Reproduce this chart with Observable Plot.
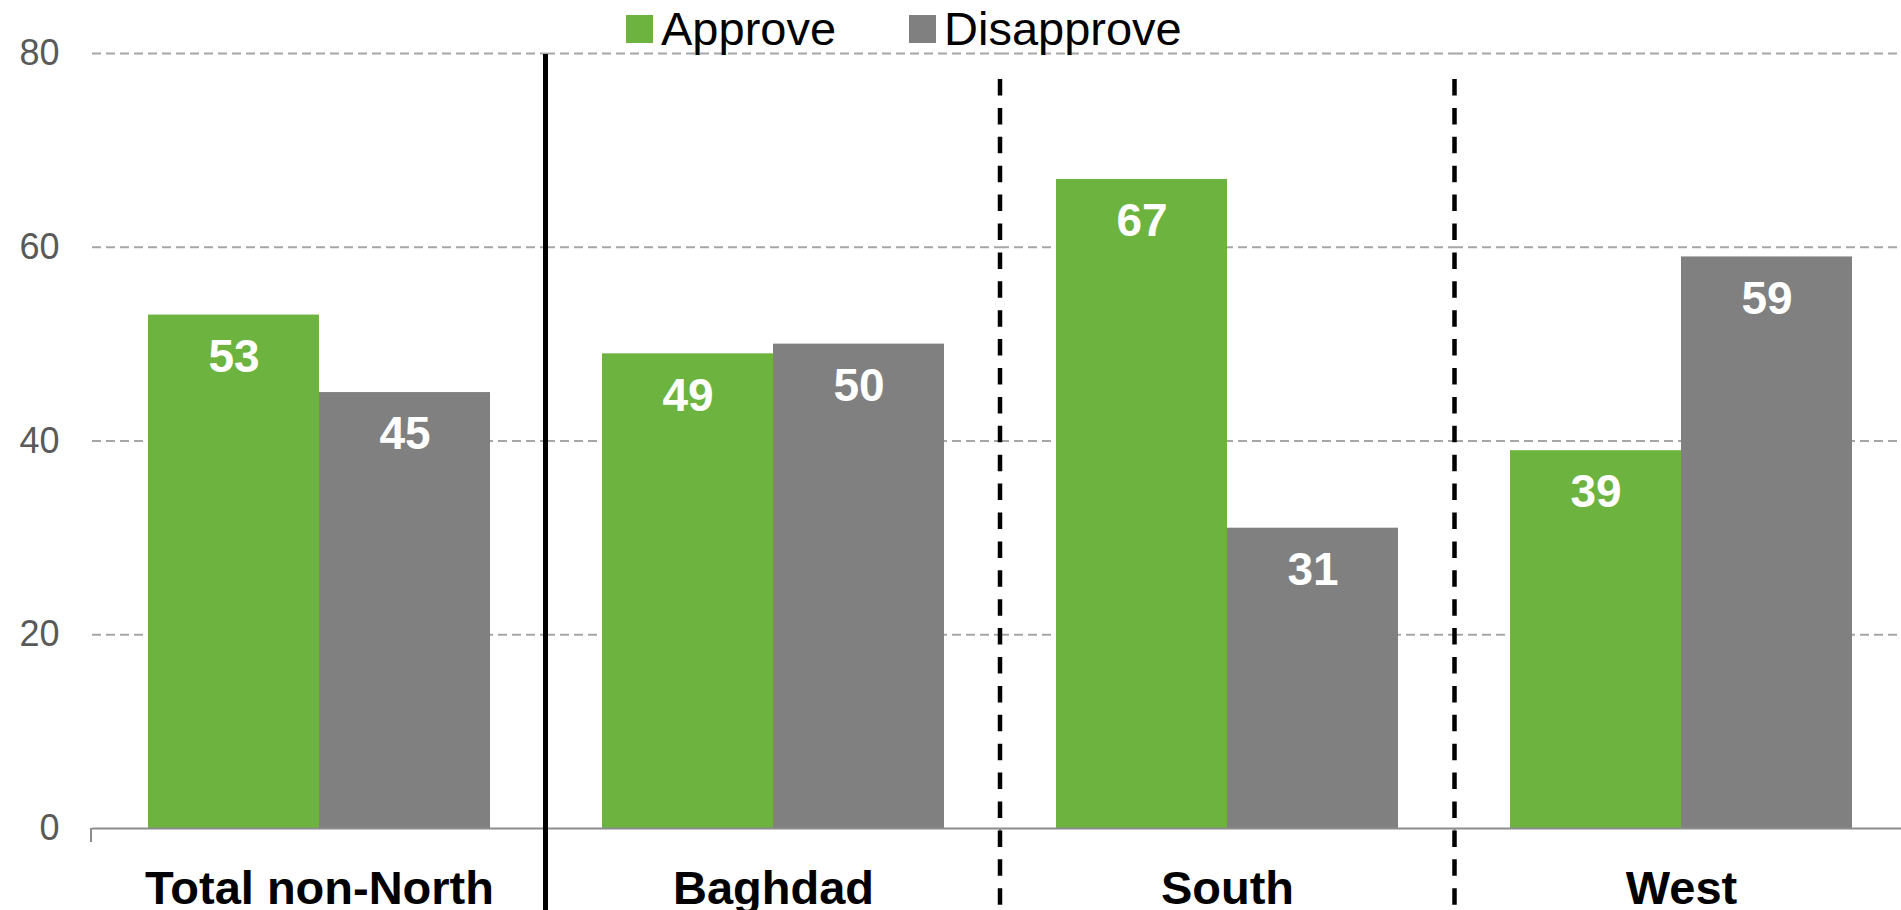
<!DOCTYPE html>
<html>
<head>
<meta charset="utf-8">
<script src="https://cdn.jsdelivr.net/npm/d3@7"></script>
<script src="https://cdn.jsdelivr.net/npm/@observablehq/plot@0.6"></script>
<style>
  html, body { margin: 0; padding: 0; background: #fff; }
  #wrap { position: relative; width: 1901px; height: 910px; overflow: hidden; font-family: "Liberation Sans", Arial, sans-serif; }
  .lg { position: absolute; top: 5px; height: 47px; display: flex; align-items: flex-start; }
  .lg .sw { width: 27px; height: 28px; margin-top: 10px; margin-right: 8px; }
  .lg .tx { font-size: 47px; line-height: 47px; color: #000; white-space: nowrap; }
</style>
</head>
<body>
<div id="wrap"></div>
<script>
const groups = ["Total non-North", "Baghdad", "South", "West"];
const series = ["Approve", "Disapprove"];
const approve = [53, 49, 67, 39];
const disapprove = [45, 50, 31, 59];
const colors = ["#6db33f", "#808080"];
const yTicks = [0, 20, 40, 60, 80];
const gridTicks = [20, 40, 60, 80];
const legendLeft = [626, 909];

const data = groups.flatMap((g, i) => [
  {group: g, series: series[0], value: approve[i]},
  {group: g, series: series[1], value: disapprove[i]}
]);

const chart = Plot.plot({
  width: 1901,
  height: 910,
  marginTop: 53,
  marginBottom: 82,
  marginLeft: 91,
  marginRight: -8,
  style: {fontFamily: "'Liberation Sans', Arial, sans-serif", background: "white", overflow: "visible"},
  facet: {data, x: "group"},
  fx: {domain: groups, padding: 0, label: null, axis: null},
  x: {domain: series, paddingInner: 0, paddingOuter: 0.321, axis: null},
  y: {domain: [0, 80], axis: null},
  color: {domain: series, range: colors},
  marks: [
    Plot.ruleY(gridTicks, {stroke: "#a6a6a6", strokeWidth: 2, strokeDasharray: "9,5"}),
    Plot.barY(data, {x: "series", y: "value", fill: "series"}),
    Plot.ruleY([0], {stroke: "#8c8c8c", strokeWidth: 2}),
    Plot.text(data, {x: "series", y: "value", text: d => String(d.value), dy: 42, fill: "white", fontWeight: "bold", fontSize: 46}),
    Plot.axisY({ticks: yTicks, tickSize: 0, tickPadding: 33, fontSize: 36, fill: "#595959", label: null}),
    Plot.axisFx({anchor: "bottom", tickSize: 0, tickPadding: 42, fontSize: 47, fontWeight: "bold", fill: "#000", label: null})
  ]
});

const wrap = document.getElementById("wrap");
wrap.appendChild(chart);

// separators and category ticks, from the fx scale
const fxs = chart.scale("fx");
const [r0, r1] = fxs.range;
const step = (r1 - r0) / groups.length;
const yS = chart.scale("y");
const yBase = yS.apply(0);
const yTop = yS.apply(80);
const svg = d3.select(chart);
const deco = svg.append("g");
d3.range(groups.length + 1).forEach(i => {
  const x = r0 + step * i;
  deco.append("line").attr("x1", x).attr("x2", x).attr("y1", yBase).attr("y2", yBase + 14)
    .attr("stroke", "#8c8c8c").attr("stroke-width", 2);
});
d3.range(1, groups.length).forEach(i => {
  const x = r0 + step * i;
  const solid = i === 1;
  deco.append("line")
    .attr("x1", x).attr("x2", x)
    .attr("y1", solid ? yTop + 1 : yTop + 26)
    .attr("y2", 910)
    .attr("stroke", "#000")
    .attr("stroke-width", solid ? 5 : 4.5)
    .attr("stroke-dasharray", solid ? null : "16.5,12.4");
});

// legend
series.forEach((s, i) => {
  const item = document.createElement("div");
  item.className = "lg";
  item.style.left = legendLeft[i] + "px";
  const sw = document.createElement("div");
  sw.className = "sw";
  sw.style.background = colors[i];
  const tx = document.createElement("div");
  tx.className = "tx";
  tx.textContent = s;
  item.appendChild(sw);
  item.appendChild(tx);
  wrap.appendChild(item);
});
</script>
</body>
</html>
